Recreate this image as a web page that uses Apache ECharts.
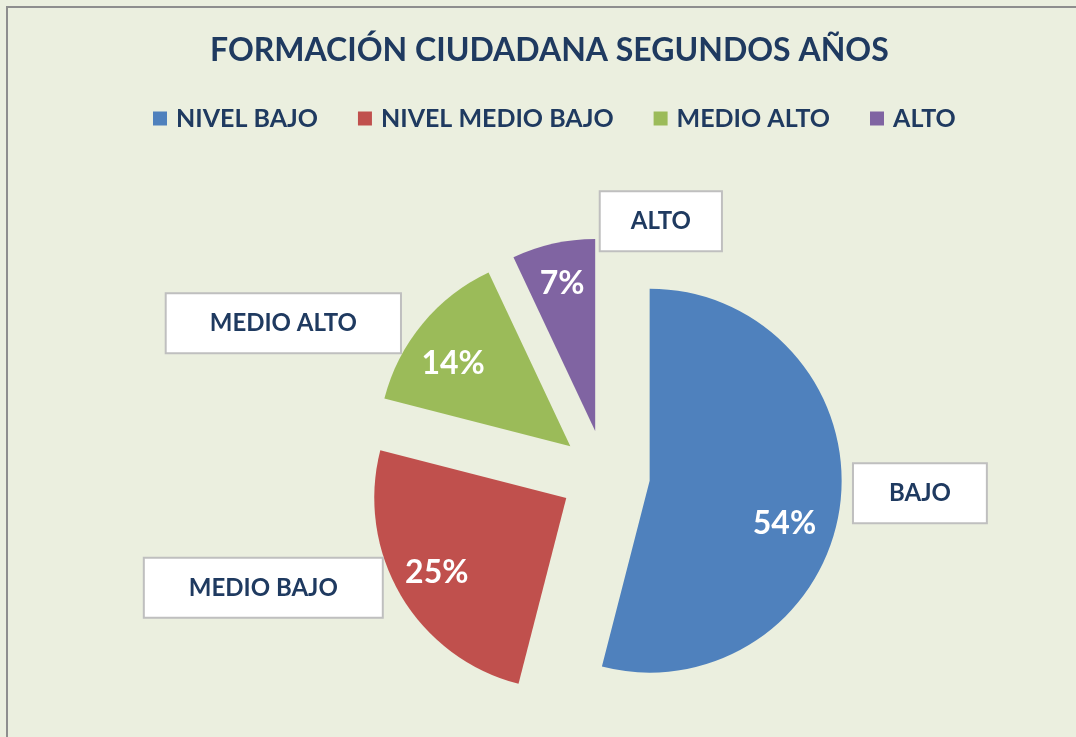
<!DOCTYPE html>
<html>
<head>
<meta charset="utf-8">
<style>
    html, body { margin: 0; padding: 0; background: #ebefdf; }
    #chart {
        position: absolute;
        left: 0; top: 0;
        width: 1076px; height: 737px;
    }
    #frame {
        position: absolute;
        left: 6px; top: 6px;
        width: 1070px; height: 731px;
        border-left: 2px solid #8e8e8e;
        border-top: 2px solid #8e8e8e;
        box-sizing: border-box;
        pointer-events: none;
    }
</style>
<script src="https://cdn.jsdelivr.net/npm/echarts@6/dist/echarts.min.js"></script>
</head>
<body>
<div id="chart"></div>
<div id="frame"></div>
<script>
    // datos del grafico
    var legendNames = ['NIVEL BAJO', 'NIVEL MEDIO BAJO', 'MEDIO ALTO', 'ALTO'];
    var boxNames = ['BAJO', 'MEDIO BAJO', 'MEDIO ALTO', 'ALTO'];
    var percents = [54, 25, 14, 7];
    var colors = ['#4f81bd', '#c0504d', '#9bbb59', '#8064a2'];

    // ajustes de posicion / relleno de etiquetas (px)
    var pctShift = [[-11, 25], [-3, 0], [-4, 11], [-1, -4]];
    var boxShift = [[-11, -14], [3, -18], [-2, 12], [177, -3]];
    var boxPadX = [35, 44, 43, 30];

    var textColor = '#1f3a60';
    var fontFam = 'Lato, "Open Sans", sans-serif';

    var center = [605, 475];
    var radius = 192;
    var offset = 45;

    function sliceData(names, transparent) {
        var arr = [];
        for (var i = 0; i < percents.length; i++) {
            arr.push({
                name: names[i],
                value: percents[i],
                selected: true,
                itemStyle: { color: transparent ? 'rgba(0,0,0,0)' : colors[i] }
            });
        }
        return arr;
    }

    function shiftBy(list) {
        return function (params) {
            var s = list[params.dataIndex];
            return { dx: s[0], dy: s[1] };
        };
    }

    var baseSeries = {
        type: 'pie',
        center: center,
        startAngle: 90,
        selectedMode: 'multiple',
        selectedOffset: offset,
        emphasis: { disabled: true },
        labelLine: { show: false }
    };

    var boxData = sliceData(boxNames, true);
    boxData.forEach(function (d, i) {
        d.label = { padding: [17, boxPadX[i]] };
    });

    var option = {
        animation: false,
        title: {
            text: 'FORMACIÓN CIUDADANA SEGUNDOS AÑOS',
            left: 205,
            top: 30,
            textStyle: {
                fontFamily: fontFam,
                fontSize: 32,
                fontWeight: 'bold',
                color: textColor
            }
        },
        legend: {
            top: 101,
            left: 148,
            itemWidth: 14,
            itemHeight: 14,
            itemGap: 40,
            icon: 'rect',
            data: legendNames,
            textStyle: {
                fontFamily: fontFam,
                fontSize: 25,
                fontWeight: 'bold',
                color: textColor,
                padding: [0, 0, 0, 4]
            }
        },
        series: [
            echarts.util.merge({
                name: 'pct',
                radius: [0, radius],
                label: { show: false },
                data: sliceData(legendNames, false)
            }, baseSeries),
            echarts.util.merge({
                // etiquetas de porcentaje (serie invisible mas grande)
                name: 'pctLabel',
                radius: [0, radius * 1.5],
                silent: true,
                label: {
                    show: true,
                    position: 'inside',
                    formatter: '{c}%',
                    fontFamily: fontFam,
                    fontSize: 32,
                    fontWeight: 'bold',
                    color: '#fff'
                },
                labelLayout: shiftBy(pctShift),
                data: sliceData(boxNames, true)
            }, baseSeries),
            echarts.util.merge({
                // cuadros con nombre
                name: 'boxes',
                radius: [0, radius],
                silent: true,
                label: {
                    show: true,
                    position: 'outside',
                    formatter: '{b}',
                    fontFamily: fontFam,
                    fontSize: 24,
                    fontWeight: 'bold',
                    color: textColor,
                    backgroundColor: '#fff',
                    borderColor: '#bfbfbf',
                    borderWidth: 2,
                    padding: [17, 38]
                },
                labelLine: { show: false, length: 20, length2: 0 },
                labelLayout: shiftBy(boxShift),
                data: boxData
            }, baseSeries)
        ]
    };

    var chart = echarts.init(document.getElementById('chart'));
    chart.setOption(option);
</script>
</body>
</html>
